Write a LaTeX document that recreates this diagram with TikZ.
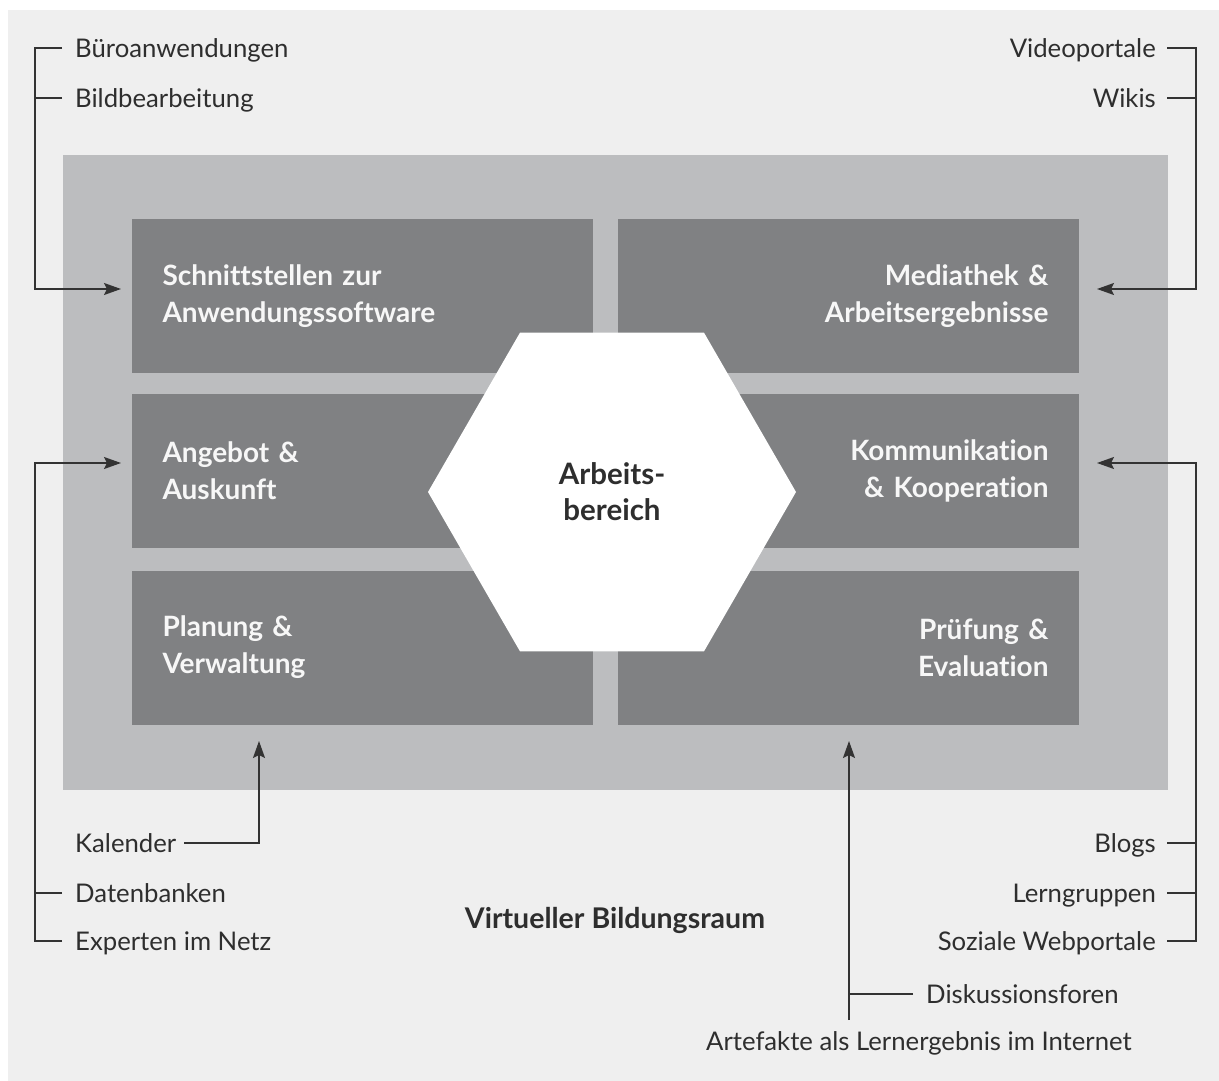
\documentclass[tikz,border=0pt]{standalone}
\usepackage{fontspec}
\setmainfont{Lato}[Ligatures={NoCommon,NoRequired,NoContextual}]
\usetikzlibrary{shapes.geometric,arrows.meta}
\definecolor{bgc}{HTML}{EFEFEF}
\definecolor{midc}{HTML}{BCBDBF}
\definecolor{darkc}{HTML}{808183}
\definecolor{linec}{HTML}{333333}
\definecolor{txtc}{HTML}{2E2E2E}
\definecolor{boxtxt}{HTML}{F7F7F7}
\begin{document}
\begin{tikzpicture}[x=1pt,y=-1pt,
  lbl/.style={inner sep=0pt, text height=18.5pt, text depth=0pt, font=\fontsize{25.7}{30}\selectfont, text=txtc},
  conn/.style={draw=linec, line width=1.6pt},
  arr/.style={conn, -{Stealth[length=17pt,width=12pt,inset=3pt]}},
  box/.style={fill=darkc, minimum width=461pt, minimum height=154pt, inner sep=0pt, text width=400pt, font=\bfseries\fontsize{28}{37}\selectfont, text=boxtxt},
  hexa/.style={regular polygon, regular polygon sides=6, minimum size=368pt, inner sep=0pt, outer sep=0pt, fill=white, font=\bfseries\fontsize{29.5}{36}\selectfont, text=txtc, align=center}
]
\useasboundingbox (0,0) rectangle (1219,1081);
\fill[white] (0,0) rectangle (1219,1081);
\fill[bgc] (8,10) rectangle (1219,1081);
\fill[midc] (63,155) rectangle (1168,790);

% boxes
\node[box, align=left]  (b1) at (362.5,296) {Schnittstellen zur\\Anwendungssoftware};
\node[box, align=right] (b2) at (848.5,296) {Mediathek \&\\Arbeitsergebnisse};
\node[box, align=left]  (b3) at (362.5,470.5) {Angebot \&\\Auskunft};
\node[box, align=right] (b4) at (848.5,470.5) {Kommunikation\\\& Kooperation};
\node[box, align=left]  (b5) at (362.5,647.5) {Planung \&\\Verwaltung};
\node[box, align=right] (b6) at (848.5,647.5) {Prüfung \&\\Evaluation};

% hexagon
\node[hexa] (hex) at (612,492) {Arbeits-\\bereich};

% title
\node[font=\bfseries\fontsize{28.5}{32}\selectfont, text=txtc, inner sep=0pt, text height=20.5pt, text depth=0pt] (vb) at (615,918) {Virtueller Bildungsraum};

% labels
\node[lbl, anchor=west] (bue) at (75,48) {Büroanwendungen};
\node[lbl, anchor=west] (bild) at (75,98) {Bildbearbeitung};
\node[lbl, anchor=east] (vid) at (1156,48) {Videoportale};
\node[lbl, anchor=east] (wik) at (1156,98) {Wikis};
\node[lbl, anchor=west] (kal) at (75,843) {Kalender};
\node[lbl, anchor=west] (dat) at (75,893) {Datenbanken};
\node[lbl, anchor=west] (exp) at (75,941) {Experten im Netz};
\node[lbl, anchor=east] (blo) at (1156,843) {Blogs};
\node[lbl, anchor=east] (ler) at (1156,893) {Lerngruppen};
\node[lbl, anchor=east] (soz) at (1156,941) {Soziale Webportale};
\node[lbl, anchor=west] (dis) at (926,994) {Diskussionsforen};
\node[lbl, anchor=west] (art) at (706,1041) {Artefakte als Lernergebnis im Internet};

% arrow targets
\coordinate (t1) at (121,289);
\coordinate (t2) at (1097,289);
\coordinate (t3) at (121,463);
\coordinate (t4) at (1097,463);
\coordinate (t5) at (259,741);
\coordinate (t6) at (849,741);
\coordinate (artend) at (849,1020);

% left top
\draw[arr] ([xshift=-13pt]bue.west) -| (35,289) -- (t1);
\draw[conn] ([xshift=-13pt]bild.west) -- (35,98);
% right top
\draw[arr] ([xshift=11pt]vid.east) -| (1196,289) -- (t2);
\draw[conn] ([xshift=11pt]wik.east) -- (1196,98);
% left bottom
\draw[arr] ([xshift=-13pt]exp.west) -| (35,463) -- (t3);
\draw[conn] ([xshift=-13pt]dat.west) -- (35,893);
% Kalender
\draw[arr] ([xshift=8pt]kal.east) -| (t5);
% right bottom
\draw[arr] ([xshift=11pt]soz.east) -| (1196,463) -- (t4);
\draw[conn] ([xshift=11pt]ler.east) -- (1196,893);
\draw[conn] ([xshift=11pt]blo.east) -- (1196,843);
% Diskussionsforen / Artefakte
\draw[arr] (artend) -- (t6);
\draw[conn] ([xshift=-13pt]dis.west) -- (849,994);
\end{tikzpicture}
\end{document}
